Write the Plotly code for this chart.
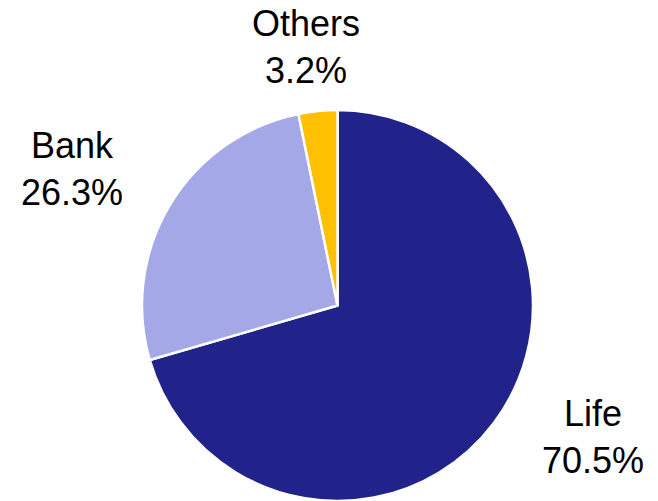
import plotly.graph_objects as go

# Portfolio share by channel
categories = ["Life", "Bank", "Others"]
shares = [70.5, 26.3, 3.2]
colors = ["#22238A", "#A5A8E6", "#FFC000"]

W, H = 658, 501
cx, cy = 337.5, 305.5  # pixel centre of the pie
r = H - cy             # half-size of the domain, bottom edge at the page bottom

fig = go.Figure(go.Pie(
    labels=categories,
    values=shares,
    sort=False,
    direction="clockwise",
    rotation=0,
    marker=dict(colors=colors, line=dict(color="white", width=2.5)),
    textinfo="none",
    hoverinfo="label+percent",
    showlegend=False,
    domain=dict(x=[(cx - r) / W, (cx + r) / W],
                y=[0, 2 * r / H]),
))

# label anchor points (pixel coordinates, from top-left)
label_pos = {"Others": (306, 47), "Bank": (72, 169), "Life": (593, 437)}
for name, val in zip(categories, shares):
    px, py = label_pos[name]
    fig.add_annotation(
        x=px / W, y=1 - py / H, xref="paper", yref="paper",
        text=f"{name}<br>{val:.1f}%", showarrow=False,
        xanchor="center", yanchor="middle",
        font=dict(family="Liberation Sans, Arial, sans-serif", size=36, color="black"),
    )

fig.update_layout(
    width=W, height=H,
    margin=dict(l=0, r=0, t=0, b=0),
    paper_bgcolor="white", plot_bgcolor="white",
)

fig.write_html("out.html")
